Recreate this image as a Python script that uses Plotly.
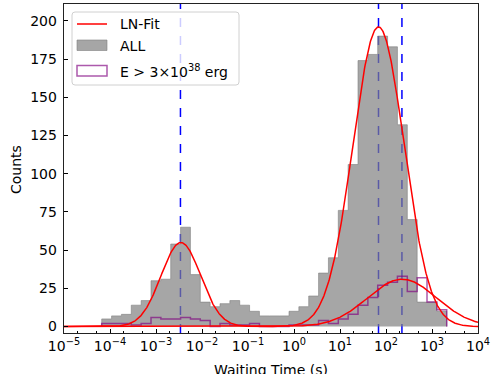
import numpy as np
import plotly.graph_objects as go

# ---- data ----
bin_log_start = -4.18
bin_log_end = 3.32
n_bins = 35

counts_all = [5, 7, 8, 14, 17, 30, 31, 54, 65, 34, 16, 13, 15, 17, 14, 10, 7,
              7, 7, 10, 13, 20, 35, 45, 76, 106, 174, 178, 190, 183, 132, 70,
              16, 16, 10]
counts_e38 = [2, 2, 2, 1, 2, 6, 5, 5, 6, 5, 4, 0, 2, 1, 1, 2, 0, 0, 0, 1, 1, 1,
              4, 2, 5, 8, 14, 19, 27, 29, 33, 23, 32, 16, 11]

# log-normal fit parameters (amplitude, log10 centre, log10 sigma)
fit_all_amp = [55, 196]
fit_all_mu = [-2.46, 1.837]
fit_all_sigma = [0.43, 0.556]
fit_e38_amp = [31]
fit_e38_mu = [2.35]
fit_e38_sigma = [0.75]

peak_times = [3.4e-3, 68.7, 222.0]

x_exponents = [-5, -4, -3, -2, -1, 0, 1, 2, 3, 4]
y_tickvals = [0, 25, 50, 75, 100, 125, 150, 175, 200]

legend_labels = ["LN-Fit", "ALL", "E > 3×10<sup>38</sup> erg"]

# ---- build ----
edges = 10 ** np.linspace(bin_log_start, bin_log_end, n_bins + 1)


def step_xy(counts):
    xs = [edges[0]] + list(edges[:-1]) + [edges[-1]]
    ys = [0] + list(counts) + [0]
    return xs, ys


def lognorm(xg, amps, mus, sigmas):
    lx = np.log10(xg)
    y = np.zeros_like(lx)
    for a, m, s in zip(amps, mus, sigmas):
        y += a * np.exp(-0.5 * ((lx - m) / s) ** 2)
    return y


xg = np.logspace(-5, 4, 800)
font = "DejaVu Sans"
GRAY_FILL = "rgba(128,128,128,0.7)"
PURPLE = "rgba(128,0,128,0.65)"

fig = go.Figure()

xa, ya = step_xy(counts_all)
fig.add_trace(go.Scatter(x=xa, y=ya, mode="lines",
                         line=dict(shape="hv", width=0.8, color="rgba(128,128,128,0.75)"),
                         fill="tozeroy", fillcolor=GRAY_FILL, showlegend=False,
                         hoverinfo="skip"))

xe, ye = step_xy(counts_e38)
fig.add_trace(go.Scatter(x=xe, y=ye, mode="lines",
                         line=dict(shape="hv", width=1.5, color=PURPLE),
                         showlegend=False, hoverinfo="skip"))

fig.add_trace(go.Scatter(x=xg, y=lognorm(xg, fit_all_amp, fit_all_mu, fit_all_sigma),
                         mode="lines", line=dict(color="red", width=1.5), showlegend=False,
                         hoverinfo="skip"))
fig.add_trace(go.Scatter(x=xg, y=lognorm(xg, fit_e38_amp, fit_e38_mu, fit_e38_sigma),
                         mode="lines", line=dict(color="red", width=1.5), showlegend=False,
                         hoverinfo="skip"))

for t in peak_times:
    fig.add_shape(type="line", x0=t, x1=t, xref="x", y0=0, y1=1, yref="paper",
                  line=dict(color="blue", width=1.5, dash="dash"), layer="below")

# ---- hand-drawn legend (matplotlib style) ----
PX_L, PX_R, PX_T, PX_B = 64, 478, 4, 333
W, H = PX_R - PX_L, PX_B - PX_T


def px(x):
    return (x - PX_L) / W


def py(y):
    return (PX_B - y) / H


def rounded_rect(x0, y0, x1, y1, r=3):
    rx, ry = r / W, r / H
    X0, X1, Y0, Y1 = px(x0), px(x1), py(y1), py(y0)
    return (f"M {X0+rx},{Y0} L {X1-rx},{Y0} Q {X1},{Y0} {X1},{Y0+ry} "
            f"L {X1},{Y1-ry} Q {X1},{Y1} {X1-rx},{Y1} L {X0+rx},{Y1} "
            f"Q {X0},{Y1} {X0},{Y1-ry} L {X0},{Y0+ry} Q {X0},{Y0} {X0+rx},{Y0} Z")


fig.add_shape(type="path", path=rounded_rect(72, 12, 239, 85), xref="paper", yref="paper",
              fillcolor="rgba(255,255,255,0.8)", line=dict(color="#d0d0d0", width=1),
              layer="above")
fig.add_shape(type="line", x0=px(77), x1=px(107), y0=py(24), y1=py(24),
              xref="paper", yref="paper", line=dict(color="red", width=1.5), layer="above")
fig.add_shape(type="rect", x0=px(77), x1=px(107), y0=py(50.5), y1=py(40),
              xref="paper", yref="paper", fillcolor=GRAY_FILL,
              line=dict(color="rgba(128,128,128,0.75)", width=0.8), layer="above")
fig.add_shape(type="rect", x0=px(77), x1=px(107), y0=py(76), y1=py(65.5),
              xref="paper", yref="paper", fillcolor="white",
              line=dict(color=PURPLE, width=1.5), layer="above")
for lab, yy in zip(legend_labels, [24, 45.5, 71]):
    fig.add_annotation(text=lab, x=px(118), y=py(yy), xref="paper", yref="paper",
                       xanchor="left", yanchor="middle", showarrow=False,
                       font=dict(family=font, size=14, color="black"))

# axis titles
fig.add_annotation(text="Waiting Time (s)", x=0.5, y=py(370), xref="paper", yref="paper",
                   xanchor="center", yanchor="middle", showarrow=False,
                   font=dict(family=font, size=14, color="black"))
fig.add_annotation(text="Counts", x=px(16), y=py(170), xref="paper", yref="paper",
                   xanchor="center", yanchor="middle", showarrow=False, textangle=-90,
                   font=dict(family=font, size=14, color="black"))

fig.update_layout(
    width=491, height=374,
    margin=dict(l=64, r=13, t=4, b=41, autoexpand=False),
    paper_bgcolor="white", plot_bgcolor="white",
    font=dict(family=font, size=14, color="black"),
    showlegend=False,
)
fig.update_xaxes(type="log", range=[-5, 4],
                 tickvals=[10.0 ** e for e in x_exponents],
                 ticktext=[f"10<sup>{str(e).replace('-', '−')}</sup>" for e in x_exponents],
                 tickangle=0, automargin=False,
                 ticks="inside", ticklen=4, tickwidth=1, tickcolor="black",
                 showline=True, linecolor="#222", linewidth=1.3, mirror=True,
                 showgrid=False, zeroline=False,
                 minor=dict(ticks="inside", ticklen=2, tickcolor="black", showgrid=False),
                 tickfont=dict(size=14))
fig.update_yaxes(range=[-4.2, 211], tickvals=y_tickvals, automargin=False,
                 ticks="inside", ticklen=4, tickwidth=1, tickcolor="black",
                 showline=True, linecolor="#222", linewidth=1.3, mirror=True,
                 showgrid=False, zeroline=False, ticklabelstandoff=3,
                 tickfont=dict(size=14))

fig.write_html("out.html", config={"displayModeBar": False, "staticPlot": True},
               post_script="document.body.style.margin='0';document.body.style.overflow='hidden';")
